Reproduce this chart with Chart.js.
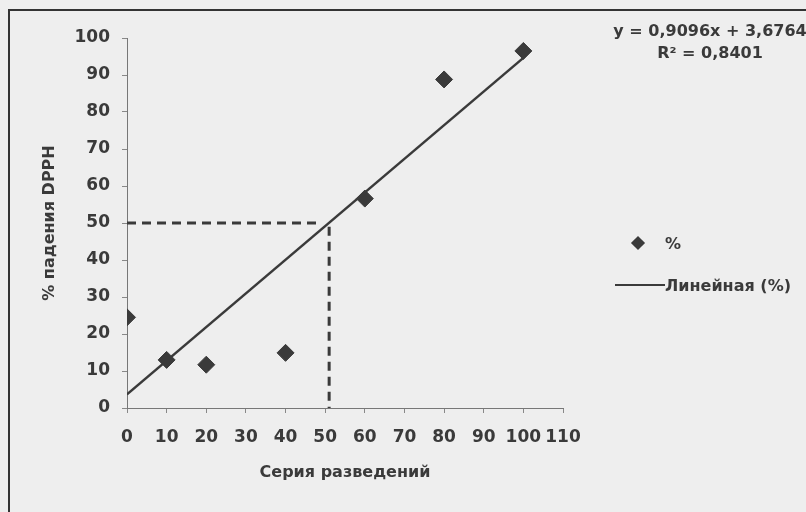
<!DOCTYPE html>
<html>
<head>
<meta charset="utf-8">
<script src="https://cdn.jsdelivr.net/npm/chart.js@4"></script>
<style>
	body { margin: 0; background: #eeeeee; }
	#wrap { position: relative; width: 806px; height: 512px; overflow: hidden; font-family: 'DejaVu Sans', sans-serif; font-weight: bold; color: #3a3a3a; }
	#frame { position: absolute; left: 8px; top: 9px; width: 900px; height: 600px; border-left: 2px solid #333; border-top: 2px solid #333; pointer-events: none; }
	#equation { position: absolute; left: 600px; top: 20px; width: 220px; text-align: center; font-size: 16px; line-height: 22px; }
	#legend { position: absolute; left: 605px; top: 222px; font-size: 16px; }
	#legend .item { display: flex; align-items: center; height: 42px; }
	#legend .mark { width: 60px; display: flex; justify-content: center; }
	#legend .diamond { width: 10px; height: 10px; background: #3a3a3a; transform: rotate(45deg); margin-left: 6px; }
	#legend .line { width: 50px; border-top: 2px solid #3a3a3a; margin-left: 10px; }
</style>
</head>
<body>
<div id="wrap">
	<canvas id="main_chart" width="806" height="512"></canvas>
	<div id="frame"></div>
	<div id="equation"></div>
	<div id="legend"></div>
</div>
<script>
// measured points
const seriesX = [0, 10, 20, 40, 60, 80, 100]
const seriesY = [24.5, 13, 11.7, 14.9, 56.6, 88.8, 96.5]
// trend line ends (y = 0,9096x + 3,6764)
const trendX = [0, 100]
const trendY = [3.68, 94.64]
// dashed guide for 50 %
const guideHX = [0, 48]
const guideHY = [50, 50]
const guideVX = [51, 51]
const guideVY = [49, 0]
const xTicks = [0, 110, 10]
const yTicks = [0, 100, 10]
const legendLabels = ['%', 'Линейная (%)']
const equationLines = ['y = 0,9096x + 3,6764', 'R² = 0,8401']

const ink = '#3a3a3a'

function toPoints(xs, ys) {
	return xs.map((x, i) => ({ x: x, y: ys[i] }))
}

Chart.defaults.font.family = "'DejaVu Sans', sans-serif"
Chart.defaults.font.weight = 'bold'
Chart.defaults.font.size = 17
Chart.defaults.color = ink

new Chart(document.getElementById('main_chart'), {
	type: 'scatter',
	data: {
		datasets: [
			{
				label: legendLabels[0],
				data: toPoints(seriesX, seriesY),
				pointStyle: 'rectRot',
				pointRadius: 8.5,
				backgroundColor: ink,
				borderColor: ink,
			},
			{
				label: legendLabels[1],
				data: toPoints(trendX, trendY),
				showLine: true,
				pointRadius: 0,
				borderColor: ink,
				borderWidth: 2.5,
			},
			{
				label: 'guide h',
				data: toPoints(guideHX, guideHY),
				showLine: true,
				pointRadius: 0,
				borderColor: ink,
				borderWidth: 3,
				borderDash: [9, 6],
			},
			{
				label: 'guide v',
				data: toPoints(guideVX, guideVY),
				showLine: true,
				pointRadius: 0,
				borderColor: ink,
				borderWidth: 3,
				borderDash: [9, 6],
			},
		],
	},
	options: {
		animation: false,
		responsive: false,
		layout: {
			padding: { top: 38, right: 243, left: 0, bottom: 0 },
		},
		plugins: {
			legend: { display: false },
			tooltip: { enabled: false },
		},
		scales: {
			x: {
				min: xTicks[0],
				max: xTicks[1],
				ticks: { stepSize: xTicks[2], padding: 14, autoSkip: false, maxRotation: 0 },
				grid: { drawOnChartArea: false, tickLength: 5, color: '#888' },
				border: { color: '#777' },
				title: { display: true, text: 'Серия разведений', font: { size: 16 }, padding: { top: 0, bottom: 30 } },
				afterFit: scale => { scale.height = 104 },
			},
			y: {
				min: yTicks[0],
				max: yTicks[1],
				ticks: { stepSize: yTicks[2], padding: 12 },
				grid: { drawOnChartArea: false, tickLength: 5, color: '#888' },
				border: { color: '#777' },
				title: { display: true, text: '% падения DPPH', font: { size: 16 }, padding: { top: 40, bottom: 0 } },
				afterFit: scale => { scale.width = 127 },
			},
		},
	},
})

// equation text
document.getElementById('equation').innerHTML = equationLines.map(t => `<div>${t}</div>`).join('')

// legend
const marks = ['diamond', 'line']
document.getElementById('legend').innerHTML = legendLabels
	.map((label, i) => `<div class="item"><span class="mark"><span class="${marks[i]}"></span></span><span>${label}</span></div>`)
	.join('')
</script>
</body>
</html>
